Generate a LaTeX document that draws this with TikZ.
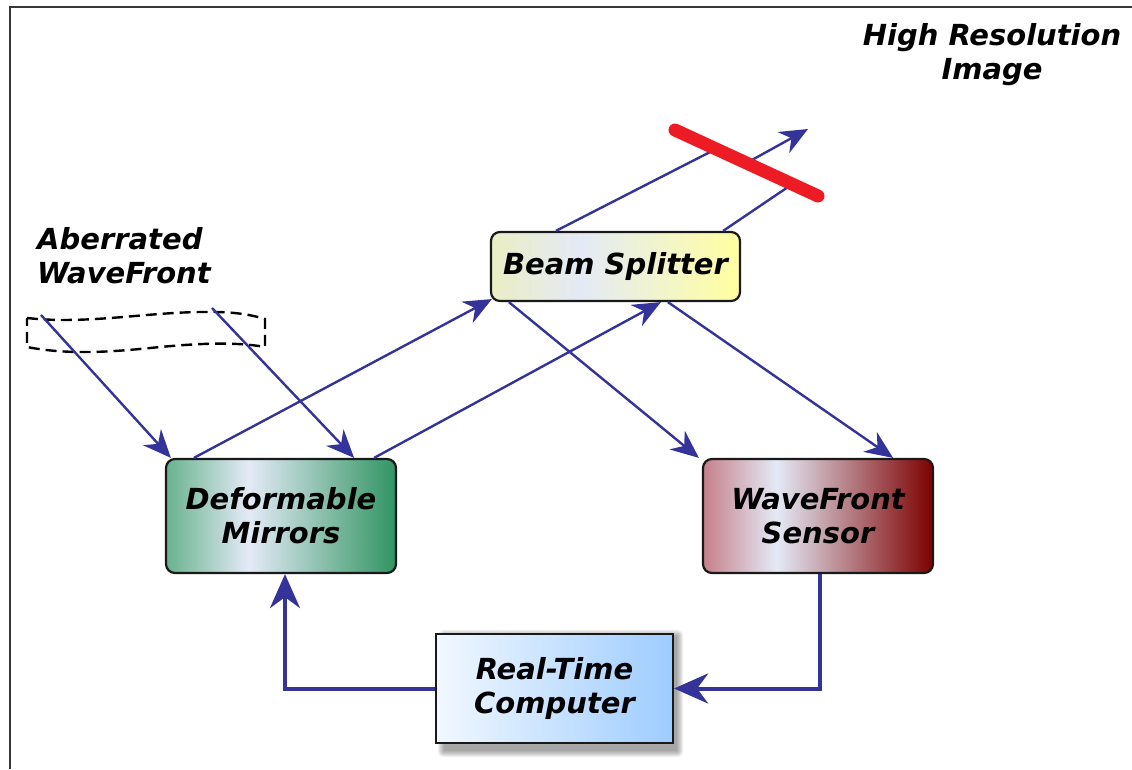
\documentclass[tikz,border=0pt]{standalone}
\usepackage{fontspec}
\setmainfont{DejaVu Sans}
\usetikzlibrary{arrows.meta,calc,backgrounds}

\definecolor{beam}{RGB}{51,51,153}
\definecolor{mirrorred}{RGB}{237,28,36}
\definecolor{framegray}{RGB}{55,55,55}
\definecolor{boxline}{RGB}{25,25,25}
\definecolor{midtone}{RGB}{228,234,246}
\definecolor{bsL}{RGB}{234,238,196}
\definecolor{bsR}{RGB}{255,255,160}
\definecolor{dmL}{RGB}{104,178,142}
\definecolor{dmR}{RGB}{48,148,98}
\definecolor{wsL}{RGB}{196,128,138}
\definecolor{wsR}{RGB}{125,0,0}
\definecolor{rtL}{RGB}{242,248,255}
\definecolor{rtR}{RGB}{158,204,255}

% left-to-right fills: edge colour, pale band, edge colour
\pgfdeclarehorizontalshading{bsfill}{100bp}{color(0bp)=(bsL); color(25bp)=(bsL); color(43bp)=(midtone); color(75bp)=(bsR); color(100bp)=(bsR)}
\pgfdeclarehorizontalshading{dmfill}{100bp}{color(0bp)=(dmL); color(25bp)=(dmL); color(43bp)=(midtone); color(75bp)=(dmR); color(100bp)=(dmR)}
\pgfdeclarehorizontalshading{wsfill}{100bp}{color(0bp)=(wsL); color(25bp)=(wsL); color(41bp)=(midtone); color(75bp)=(wsR); color(100bp)=(wsR)}
\pgfdeclarehorizontalshading{rtfill}{100bp}{color(0bp)=(rtL); color(25bp)=(rtL); color(75bp)=(rtR); color(100bp)=(rtR)}

\newcommand\figfont{\fontsize{29}{34}\selectfont\bfseries\itshape}

\tikzset{
  unitbox/.style={draw=boxline, line width=2.2pt, inner sep=0pt, align=center, font=\figfont},
  roundbox/.style={unitbox, rounded corners=9pt, minimum width=230pt, minimum height=114pt},
  ray/.style={draw=beam, line width=2.4pt, -{Stealth[length=28pt, width=24pt, inset=9pt]}},
  rayplain/.style={draw=beam, line width=2.4pt},
  loop/.style={draw=beam, line width=4pt, -{Stealth[length=34pt, width=30pt, inset=11pt]}},
  mirrorbar/.style={draw=mirrorred, line width=13pt, line cap=round},
  label/.style={font=\figfont, inner sep=0pt},
}

\begin{document}
\begin{tikzpicture}[x=1pt, y=-1pt]
\useasboundingbox (0,0) rectangle (1132,769);

% page frame
\draw[framegray, line width=2.8pt] (10,769) -- (10,7) -- (1132,7);

% headings
\node[label, align=center] (hri) at (992,55) {High Resolution\\Image};
\node[label, align=left, anchor=west] (abw) at (37,256) {Aberrated\\WaveFront};

% incoming wavefront
\draw[black, line width=2.4pt, dash pattern=on 11pt off 6pt]
  (27,318) .. controls (90,325) and (150,311) .. (213,312)
  .. controls (236,312) and (252,315) .. (265,319) -- (265,347)
  .. controls (232,341) and (190,344) .. (150,348)
  .. controls (110,352) and (68,355) .. (27,347) -- cycle;
\coordinate (w1) at (41,315);
\coordinate (w2) at (212,308);

% components
\node[roundbox, shading=bsfill, minimum width=249pt, minimum height=69pt] (bs) at (615.5,266.5) {Beam Splitter};
\node[roundbox, shading=dmfill] (dm) at (281,516) {Deformable\\Mirrors};
\node[roundbox, shading=wsfill] (ws) at (818,516) {WaveFront\\Sensor};
\node[unitbox, shading=rtfill, minimum width=237pt, minimum height=109pt] (rt) at (554.5,688.5) {Real-Time\\Computer};

% soft shadow under the computer box
\begin{scope}[on background layer]
  \foreach \s in {0,1,...,6} {
    \fill[black, opacity=0.06, rounded corners=\s pt]
      ($(rt.north west)+(9-\s,3-\s)$) rectangle ($(rt.south east)+(3+\s,7+\s)$);
  }
\end{scope}

% science-camera mirror
\coordinate (m1) at (675,130);
\coordinate (m2) at (818,196);

% optical paths
\draw[ray] (w1) -- ([xshift=6pt]dm.north west);
\draw[ray] (w2) -- ([xshift=-43pt]dm.north east);
\draw[ray] ([xshift=29pt]dm.north west) -- ([xshift=2pt, yshift=3pt]bs.south west);
\draw[ray] ([xshift=-23pt]dm.north east) -- ([xshift=171pt]bs.south west);
\draw[ray] ([xshift=19pt]bs.south west) -- ([xshift=-3pt]ws.north west);
\draw[ray] ([xshift=178pt]bs.south west) -- ([xshift=-41pt]ws.north east);
\draw[rayplain] ([xshift=66pt]bs.north west) -- ($(m1)!0.287!(m2)$);
\draw[rayplain] ([xshift=-18pt]bs.north east) -- ($(m1)!0.82!(m2)$);
\coordinate (out) at (808,129);
\draw[ray] ($(m1)!0.5!(m2)$) -- (out);
\draw[mirrorbar] (m1) -- (m2);

% control loop
\draw[loop] ([xshift=2pt]ws.south) |- (rt.east);
\draw[loop] (rt.west) -| ([xshift=4pt]dm.south);
\end{tikzpicture}
\end{document}
